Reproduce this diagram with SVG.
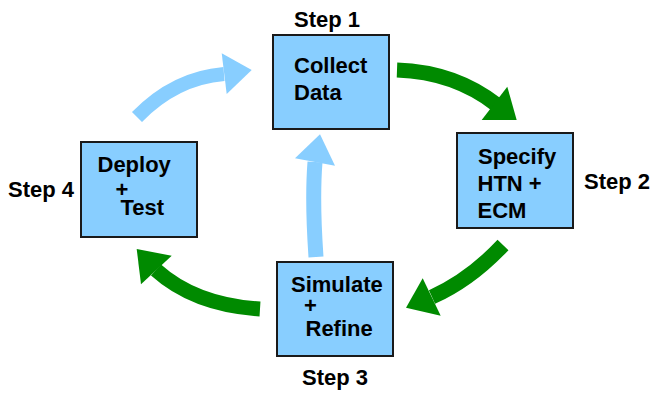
<svg xmlns="http://www.w3.org/2000/svg" width="654" height="393" viewBox="0 0 654 393">
  <style>
    .box { fill: #88CEFF; stroke: #1a1a1a; stroke-width: 2; }
    .t { font-family: "Liberation Sans", Arial, Helvetica, sans-serif; font-weight: bold; font-size: 22px; fill: #000; }
    .gshaft { fill: none; stroke: #008A00; stroke-width: 15; stroke-linecap: butt; }
    .ghead { fill: #008A00; }
    .bshaft { fill: none; stroke: #88CEFF; stroke-width: 15; stroke-linecap: butt; }
    .bhead { fill: #88CEFF; }
  </style>
  <rect width="654" height="393" fill="#ffffff"/>
  <g id="connectors">
    <g id="e1-2">
      <path class="gshaft" d="M397,70 Q455,72 497,105"/>
      <polygon class="ghead" points="507.3,86.7 516.7,120 481.7,120"/>
    </g>
    <g id="e2-3">
      <path class="gshaft" d="M503,245 Q470,280 432,297"/>
      <polygon class="ghead" points="422.7,278.3 406,307.7 440.7,315.7"/>
    </g>
    <g id="e3-4">
      <path class="gshaft" d="M260,309 Q195,305 156,270"/>
      <polygon class="ghead" points="136.7,249 171.7,255.7 141,284.3"/>
    </g>
    <g id="e4-1">
      <path class="bshaft" style="stroke-width:14" d="M137,117 Q175,78 224,74"/>
      <polygon class="bhead" points="221.7,53.3 251.7,70 226.7,94"/>
    </g>
    <g id="e3-1">
      <path class="bshaft" d="M316,257 Q312,200 315,162"/>
      <polygon class="bhead" points="295,158.3 320,134.3 335,165.7"/>
    </g>
  </g>
  <g id="step1">
    <rect class="box" x="273" y="35" width="116" height="94"/>
    <text class="t" x="294" y="73">Collect</text>
    <text class="t" x="294" y="100">Data</text>
    <text class="t" x="294" y="27">Step 1</text>
  </g>
  <g id="step2">
    <rect class="box" x="457" y="133" width="116" height="95"/>
    <text class="t" x="478" y="164">Specify</text>
    <text class="t" x="477.5" y="191">HTN +</text>
    <text class="t" x="477.5" y="218">ECM</text>
    <text class="t" x="584" y="189">Step 2</text>
  </g>
  <g id="step3">
    <rect class="box" x="277" y="262" width="116" height="94"/>
    <text class="t" x="291" y="292">Simulate</text>
    <text class="t" x="304" y="313">+</text>
    <text class="t" x="305.5" y="336">Refine</text>
    <text class="t" x="302" y="385">Step 3</text>
  </g>
  <g id="step4">
    <rect class="box" x="81" y="142" width="116" height="95"/>
    <text class="t" x="97.5" y="172">Deploy</text>
    <text class="t" x="115.5" y="197">+</text>
    <text class="t" x="120.5" y="215">Test</text>
    <text class="t" x="8" y="197">Step 4</text>
  </g>
</svg>
